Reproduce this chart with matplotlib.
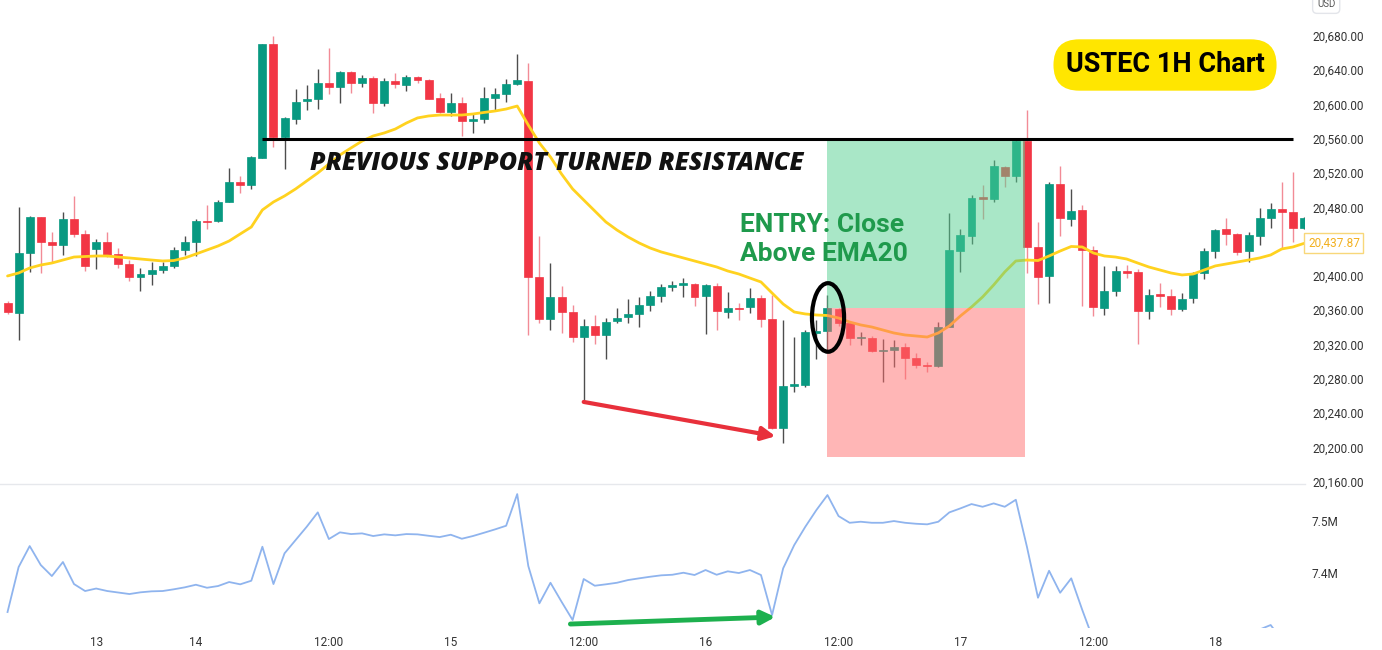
import numpy as np
import matplotlib
matplotlib.use("Agg")
import matplotlib.pyplot as plt
from matplotlib.patches import Rectangle, Ellipse
from matplotlib.ticker import FuncFormatter, FixedLocator

plt.rcParams['font.family'] = ['Roboto', 'DejaVu Sans']

# ---------------- data: USTEC hourly bars ----------------
bar_index = np.arange(-1, 117)

opens = [
    20368.4, 20357.1, 20427.1, 20468.3, 20439.2, 20436.0, 20466.0, 20448.4, 20431.6, 20439.2,
    20425.5, 20413.6, 20399.1, 20401.9, 20406.9, 20411.9, 20430.2, 20440.0, 20464.4, 20464.0,
    20486.5, 20509.9, 20506.0, 20537.1, 20670.0, 20562.3, 20583.0, 20603.9, 20606.6, 20624.6,
    20620.6, 20638.1, 20624.6, 20631.1, 20601.3, 20627.3, 20622.3, 20632.3, 20628.5, 20607.1,
    20590.8, 20601.3, 20580.6, 20583.0, 20607.1, 20612.1, 20623.4, 20627.6, 20399.1, 20349.4,
    20375.0, 20357.5, 20329.3, 20342.0, 20331.3, 20347.1, 20351.8, 20355.2, 20366.1, 20376.9,
    20386.7, 20389.0, 20390.5, 20376.6, 20388.6, 20358.3, 20362.9, 20364.1, 20373.9, 20349.4,
    20222.5, 20271.6, 20272.8, 20333.8, 20335.7, 20361.0, 20345.2, 20327.2, 20328.1, 20312.4,
    20313.6, 20316.5, 20303.9, 20296.1, 20294.9, 20340.8, 20429.4, 20446.5, 20491.7, 20489.3,
    20527.4, 20516.5, 20557.7, 20433.3, 20399.9, 20506.8, 20466.3, 20476.3, 20430.2, 20362.2,
    20382.7, 20406.1, 20404.9, 20359.4, 20378.5, 20376.9, 20361.4, 20373.9, 20403.0, 20429.4,
    20454.3, 20448.8, 20429.0, 20446.9, 20467.9, 20478.0, 20474.9, 20455.5,
]
highs = [
    20370.7, 20480.3, 20469.8, 20469.0, 20450.9, 20474.9, 20493.2, 20453.4, 20442.6, 20450.9,
    20432.2, 20418.6, 20408.9, 20416.6, 20416.6, 20433.4, 20446.5, 20466.0, 20482.7, 20488.5,
    20525.5, 20516.5, 20539.8, 20670.0, 20679.8, 20585.7, 20617.5, 20622.6, 20641.0, 20665.4,
    20638.9, 20638.9, 20634.3, 20632.8, 20630.4, 20636.3, 20634.3, 20633.1, 20629.3, 20612.9,
    20612.9, 20608.3, 20590.3, 20620.6, 20619.5, 20629.3, 20658.8, 20647.9, 20446.5, 20414.7,
    20388.6, 20366.2, 20349.4, 20354.5, 20350.7, 20362.2, 20372.7, 20375.0, 20382.7, 20390.5,
    20394.4, 20397.2, 20391.4, 20390.5, 20391.4, 20381.6, 20368.1, 20385.5, 20377.7, 20377.7,
    20348.6, 20329.1, 20336.9, 20348.6, 20377.7, 20362.6, 20346.4, 20334.9, 20329.9, 20326.0,
    20325.3, 20322.1, 20310.4, 20299.9, 20346.6, 20473.0, 20454.7, 20494.3, 20506.0, 20535.2,
    20528.2, 20559.3, 20593.5, 20463.2, 20509.9, 20528.2, 20501.0, 20482.7, 20434.9, 20411.6,
    20411.6, 20412.7, 20407.7, 20384.4, 20391.4, 20384.4, 20379.7, 20404.9, 20432.2, 20454.3,
    20467.2, 20450.4, 20451.5, 20478.8, 20485.4, 20509.9, 20521.5, 20468.7,
]
lows = [
    20355.6, 20325.3, 20404.9, 20403.4, 20415.5, 20424.4, 20445.6, 20406.1, 20407.7, 20422.4,
    20409.6, 20394.4, 20382.4, 20389.4, 20403.0, 20409.1, 20424.4, 20423.2, 20454.3, 20463.2,
    20486.2, 20497.0, 20501.3, 20537.1, 20550.7, 20524.3, 20576.8, 20593.0, 20595.0, 20612.1,
    20602.0, 20613.6, 20619.9, 20589.7, 20598.1, 20618.8, 20616.0, 20624.6, 20606.3, 20590.3,
    20586.5, 20563.2, 20567.0, 20578.0, 20592.6, 20603.1, 20622.6, 20331.1, 20344.7, 20336.9,
    20333.0, 20323.4, 20255.3, 20320.3, 20303.1, 20344.7, 20344.7, 20340.1, 20359.4, 20369.9,
    20382.7, 20375.8, 20364.9, 20331.9, 20336.9, 20350.6, 20348.6, 20356.4, 20340.8, 20221.1,
    20205.5, 20264.1, 20270.0, 20302.8, 20311.6, 20341.3, 20319.4, 20319.4, 20311.2, 20276.6,
    20294.2, 20279.4, 20292.3, 20288.3, 20294.1, 20340.8, 20404.1, 20437.2, 20466.0, 20486.5,
    20504.0, 20509.9, 20403.0, 20367.2, 20368.1, 20446.5, 20458.2, 20364.5, 20353.2, 20354.4,
    20376.6, 20397.2, 20320.6, 20349.4, 20364.1, 20354.4, 20359.4, 20368.7, 20396.0, 20421.2,
    20436.0, 20424.4, 20416.6, 20436.0, 20456.2, 20432.2, 20439.9, 20454.7,
]
closes = [
    20357.9, 20427.1, 20468.3, 20439.2, 20436.0, 20466.3, 20448.4, 20411.6, 20439.2, 20424.4,
    20413.9, 20399.1, 20402.2, 20406.9, 20411.6, 20430.2, 20440.0, 20464.0, 20462.9, 20486.5,
    20509.2, 20506.0, 20538.3, 20670.0, 20562.3, 20583.8, 20603.1, 20606.6, 20625.3, 20620.6,
    20638.1, 20624.6, 20630.4, 20602.2, 20627.6, 20623.5, 20632.5, 20628.8, 20606.6, 20590.8,
    20601.3, 20580.6, 20583.0, 20607.1, 20612.1, 20623.4, 20628.5, 20398.4, 20349.4, 20375.8,
    20357.5, 20329.3, 20342.0, 20330.5, 20346.8, 20350.6, 20355.6, 20366.1, 20376.9, 20386.7,
    20389.4, 20391.4, 20375.8, 20389.4, 20359.1, 20362.9, 20361.1, 20374.6, 20349.7, 20222.5,
    20272.0, 20274.0, 20334.2, 20336.1, 20362.0, 20345.2, 20327.2, 20329.1, 20312.7, 20313.6,
    20317.3, 20303.9, 20296.1, 20294.6, 20340.0, 20430.2, 20447.7, 20491.2, 20489.7, 20528.2,
    20516.5, 20557.7, 20433.3, 20398.4, 20507.2, 20467.2, 20476.0, 20430.5, 20363.4, 20382.4,
    20405.7, 20403.7, 20359.1, 20377.7, 20376.9, 20361.4, 20372.7, 20403.7, 20429.4, 20453.5,
    20448.5, 20428.2, 20447.7, 20467.2, 20477.7, 20474.2, 20456.2, 20467.9,
]
ema20 = [
    20399.9, 20403.4, 20409.2, 20412.7, 20415.0, 20418.5, 20422.0, 20422.6, 20423.2, 20423.2,
    20422.0, 20420.9, 20419.7, 20418.5, 20417.4, 20417.9, 20420.9, 20425.5, 20430.2, 20434.9,
    20440.7, 20448.9, 20457.0, 20476.9, 20486.2, 20493.2, 20501.4, 20510.7, 20520.0, 20530.5,
    20541.0, 20549.2, 20557.3, 20563.2, 20566.7, 20571.3, 20578.3, 20584.2, 20586.5, 20587.6,
    20587.6, 20587.6, 20588.8, 20590.6, 20592.3, 20594.6, 20598.1, 20575.9, 20555.0, 20538.7,
    20518.8, 20501.4, 20488.5, 20475.7, 20462.9, 20453.5, 20445.4, 20438.4, 20432.5, 20427.9,
    20424.4, 20420.9, 20417.4, 20413.9, 20410.4, 20405.7, 20402.2, 20397.5, 20392.9, 20380.0,
    20367.2, 20357.9, 20355.6, 20354.4, 20353.8, 20350.9, 20346.2, 20342.8, 20340.4, 20336.9,
    20333.4, 20331.1, 20329.9, 20328.7, 20333.4, 20341.6, 20353.3, 20363.7, 20375.4, 20389.4,
    20404.6, 20417.4, 20418.5, 20417.9, 20423.2, 20429.0, 20434.3, 20433.7, 20426.7, 20423.2,
    20422.0, 20419.7, 20415.0, 20410.4, 20406.9, 20403.4, 20401.1, 20402.2, 20406.9, 20411.6,
    20413.9, 20416.2, 20418.5, 20420.9, 20424.4, 20431.4, 20433.7, 20437.87,
]
# lower pane oscillator, millions
lower_pane = [
    7.3250, 7.4115, 7.4519, 7.4154, 7.3942, 7.4212, 7.3788, 7.3654, 7.3702, 7.3654,
    7.3625, 7.3596, 7.3629, 7.3648, 7.3654, 7.3687, 7.3725, 7.3775, 7.3717, 7.3750,
    7.3827, 7.3783, 7.3852, 7.4506, 7.3788, 7.4379, 7.4635, 7.4890, 7.5167, 7.4654,
    7.4783, 7.4750, 7.4763, 7.4712, 7.4744, 7.4725, 7.4750, 7.4744, 7.4717, 7.4692,
    7.4737, 7.4660, 7.4712, 7.4775, 7.4840, 7.4910, 7.5519, 7.4135, 7.3417, 7.3813,
    7.3448, 7.3096, 7.3885, 7.3756, 7.3783, 7.3813, 7.3865, 7.3898, 7.3929, 7.3956,
    7.3967, 7.4006, 7.3962, 7.4058, 7.3967, 7.4033, 7.4000, 7.4058, 7.3962, 7.3192,
    7.4090, 7.4538, 7.4890, 7.5212, 7.5500, 7.5096, 7.4967, 7.4987, 7.4967, 7.4967,
    7.5000, 7.4967, 7.4948, 7.4937, 7.4987, 7.5167, 7.5244, 7.5327, 7.5275, 7.5340,
    7.5275, 7.5410, 7.4506, 7.3525, 7.4044, 7.3621, 7.3898, 7.3288, 7.2712, 7.2620,
    7.2580, 7.2550, 7.2500, 7.2520, 7.2540, 7.2570, 7.2620, 7.2680, 7.2740, 7.2790,
    7.2830, 7.2860, 7.2890, 7.2913, 7.3000, 7.2712, 7.2680, 7.2660,
]

time_tick_bars = [7, 16, 28, 39, 51, 62, 74, 85, 97, 108]
time_tick_labels = ['13', '14', '12:00', '15', '12:00', '16', '12:00', '17', '12:00', '18']
# the 20,440 level sits under the live EMA tag, so it is left out
price_ticks = [20160, 20200, 20240, 20280, 20320, 20360, 20400, 20480,
               20520, 20560, 20600, 20640, 20680]
lower_ticks = [7.4, 7.5]

resistance_level = 20560.0
entry_bar = 73
entry_price = 20362.0
target_price = 20560.0
stop_price = 20189.0
trade_end_bar = 90.8
last_ema = ema20[-1]

# ---------------- figure ----------------
UP, DOWN = '#089981', '#f23645'
UP_WICK, DOWN_WICK = '#4d4d4d', '#f28b96'

fig = plt.figure(figsize=(13.82, 6.5), dpi=100)
ax = fig.add_axes([0.0, 0.2554, 0.9443, 0.7446])
axv = fig.add_axes([0.0, 0.0338, 0.9443, 0.2215], sharex=ax)

o = np.array(opens); h = np.array(highs); l = np.array(lows); c = np.array(closes)
up = c >= o
body_colors = np.where(up, UP, DOWN)
wick_colors = np.where(up, UP_WICK, DOWN_WICK)

ax.vlines(bar_index, l, h, colors=wick_colors, lw=1.0, zorder=2)
body_h = np.maximum(np.abs(c - o), 1.0)
ax.bar(bar_index, body_h, bottom=np.minimum(o, c), width=0.72,
       color=body_colors, edgecolor=body_colors, lw=0.5, zorder=2.5)

ax.plot(bar_index, ema20, color='#ffd21f', lw=2.0, zorder=3, solid_capstyle='round')

# risk / reward zones
ax.add_patch(Rectangle((entry_bar, entry_price), trade_end_bar - entry_bar,
                       target_price - entry_price, facecolor=(0.33, 0.82, 0.57, 0.5),
                       edgecolor='none', zorder=4))
ax.add_patch(Rectangle((entry_bar, stop_price), trade_end_bar - entry_bar,
                       entry_price - stop_price, facecolor=(1.0, 0.43, 0.43, 0.5),
                       edgecolor='none', zorder=4))

ax.hlines(resistance_level, 22, 115, colors='black', lw=2.2, zorder=5)

ax.text(26.3, 20531.5, 'PREVIOUS SUPPORT TURNED RESISTANCE',
        family=['Open Sans', 'DejaVu Sans'], fontsize=18, fontweight='heavy',
        style='italic', color='#111111', ha='left', va='center', zorder=6)

ax.text(65.1, 20459.5, 'ENTRY: Close', fontsize=19, fontweight='bold', color='#1f9a4c',
        ha='left', va='center', zorder=6)
ax.text(65.1, 20425.5, 'Above EMA20', fontsize=19, fontweight='bold', color='#1f9a4c',
        ha='left', va='center', zorder=6)

ax.add_patch(Ellipse((73.05, 20351.5), 2.9, 80, facecolor='none', edgecolor='black',
                     lw=3, zorder=7))

ax.annotate('', xy=(68.3, 20213.0), xytext=(51, 20253.0),
            arrowprops=dict(arrowstyle='-|>', color='#e8303b', lw=3, mutation_scale=20,
                            shrinkA=0, shrinkB=0), zorder=7)

ax.text(1165 / 1305, 1 - 65 / 484, 'USTEC 1H Chart', transform=ax.transAxes,
        fontsize=19.5, fontweight='bold', color='black', ha='center', va='center', zorder=8,
        bbox=dict(boxstyle='round,pad=0.45,rounding_size=0.95', fc='#ffe600', ec='none'))

# current EMA value tag
ax.text(1.0 + 3 / 1305, last_ema, f'{last_ema:,.2f}', transform=ax.get_yaxis_transform(),
        fontsize=8.5, color='#f2b01e', ha='left', va='center', clip_on=False, zorder=9,
        bbox=dict(boxstyle='square,pad=0.3', fc='white', ec='#f8d77a', lw=1))

ax.set_xlim(-1.68, 116.1)
ax.set_ylim(20157.3, 20721.75)
ax.yaxis.tick_right()
ax.yaxis.set_major_locator(FixedLocator(price_ticks))
ax.yaxis.set_major_formatter(FuncFormatter(lambda v, p: f'{v:,.2f}'))
ax.tick_params(axis='y', length=0, pad=5, labelsize=8.5, labelcolor='#333333')
ax.tick_params(axis='x', length=0, labelbottom=False)
for s in ax.spines.values():
    s.set_visible(False)

fig.text(1317 / 1382, 1 - 4 / 650, 'USD', fontsize=7, color='#555555', va='center',
         bbox=dict(boxstyle='round,pad=0.45', fc='white', ec='#e3e5ea'))

# ---------------- lower pane ----------------
axv.plot(bar_index, lower_pane, color='#8fb4ee', lw=1.3, zorder=2)
axv.annotate('', xy=(68.3, 7.3154), xytext=(49.8, 7.3019),
             arrowprops=dict(arrowstyle='-|>', color='#1db04e', lw=3.5, mutation_scale=20,
                             shrinkA=0, shrinkB=0), zorder=5)
axv.set_ylim(7.2942, 7.5712)
axv.yaxis.tick_right()
axv.yaxis.set_major_locator(FixedLocator(lower_ticks))
axv.yaxis.set_major_formatter(FuncFormatter(lambda v, p: f'{v:.1f}M'))
axv.tick_params(axis='y', length=0, pad=5, labelsize=8.5, labelcolor='#333333')
axv.xaxis.set_major_locator(FixedLocator(time_tick_bars))
axv.set_xticklabels(time_tick_labels)
axv.tick_params(axis='x', length=0, pad=6, labelsize=8.5, labelcolor='#333333')
for name, s in axv.spines.items():
    s.set_visible(name == 'top')
axv.spines['top'].set_color('#e6e8ec')
axv.spines['top'].set_linewidth(1.0)

fig.savefig('out.png', dpi=100, facecolor='white')
